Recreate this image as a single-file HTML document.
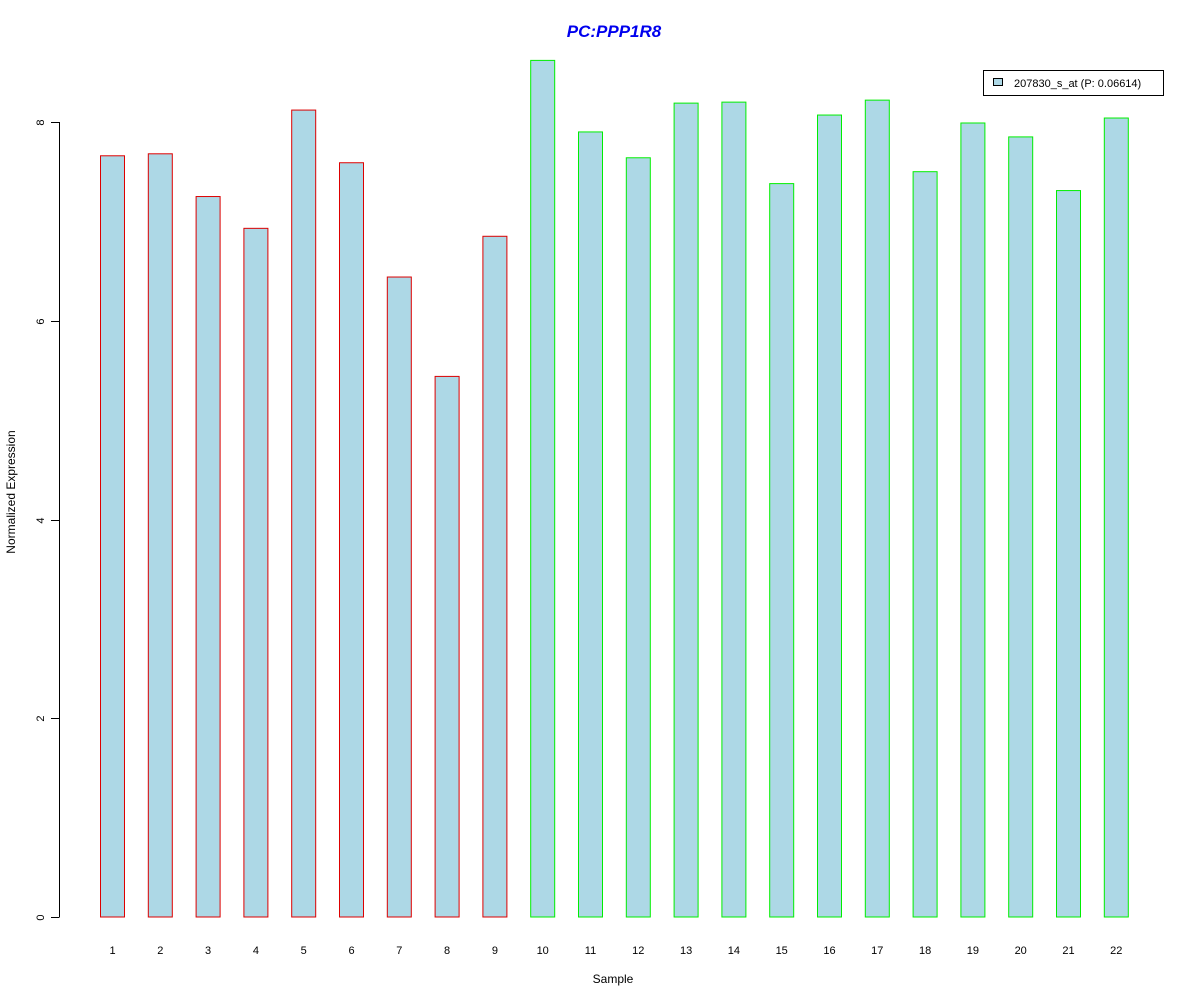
<!DOCTYPE html>
<html><head><meta charset="utf-8"><style>
body{margin:0;background:#fff;}
svg text{font-family:"Liberation Sans",Arial,sans-serif;}
</style></head><body>
<svg id="chart" width="1200" height="1000" xmlns="http://www.w3.org/2000/svg">
<rect width="1200" height="1000" fill="#fff"/>
<text x="614" y="37" text-anchor="middle" font-size="17" font-weight="bold" font-style="italic" fill="#0000ee">PC:PPP1R8</text>
<text x="613" y="983" text-anchor="middle" font-size="12">Sample</text>
<text transform="translate(15,492) rotate(-90)" text-anchor="middle" font-size="12">Normalized Expression</text>
<g id="bars"></g>
<g id="yaxis"></g>
<g>
<rect x="983.5" y="70.5" width="180" height="25" fill="#fff" stroke="#000"/>
<rect x="993.5" y="78.5" width="9" height="7" fill="#add8e6" stroke="#000"/>
<text x="1014" y="87" font-size="11">207830_s_at (P: 0.06614)</text>
</g>
</svg>
<script>
const categories=["1","2","3","4","5","6","7","8","9","10","11","12","13","14","15","16","17","18","19","20","21","22"];
const values=[7.66,7.68,7.25,6.93,8.12,7.59,6.44,5.44,6.85,8.62,7.90,7.64,8.19,8.20,7.38,8.07,8.22,7.50,7.99,7.85,7.31,8.04];
const groups=["red","red","red","red","red","red","red","red","red","green","green","green","green","green","green","green","green","green","green","green","green","green"];
const yTicks=[0,2,4,6,8];
const NS="http://www.w3.org/2000/svg";
function yScale(v){return 917-v*99.375;}
function xScale(i){return 112.5+i*47.8;}
const bars=document.getElementById('bars');
categories.forEach((c,i)=>{
  const r=document.createElementNS(NS,'rect');
  
  
  const x=xScale(i)-12,y=yScale(values[i]);
  r.setAttribute('x',x);r.setAttribute('y',y);r.setAttribute('width',24);r.setAttribute('height',917-y);
  r.setAttribute('fill','#add8e6');r.setAttribute('stroke',groups[i]==='red'?'#dd0000':'#00ee00');
  bars.appendChild(r);
  const t=document.createElementNS(NS,'text');
  
  
  t.setAttribute('x',xScale(i));t.setAttribute('y',954);t.setAttribute('text-anchor','middle');t.setAttribute('font-size','11');
  t.textContent=c;bars.appendChild(t);
});
const ya=document.getElementById('yaxis');
const ax=document.createElementNS(NS,'line');


ax.setAttribute('x1',59.5);ax.setAttribute('x2',59.5);ax.setAttribute('y1',yScale(yTicks[0]));ax.setAttribute('y2',yScale(yTicks[yTicks.length-1]));ax.setAttribute('stroke','#000');
ya.appendChild(ax);
yTicks.forEach(v=>{
  const l=document.createElementNS(NS,'line');
  
  
  const y=Math.round(yScale(v))+0.5;
  l.setAttribute('x1',51);l.setAttribute('x2',59.5);l.setAttribute('y1',y);l.setAttribute('y2',y);l.setAttribute('stroke','#000');
  ya.appendChild(l);
  const t=document.createElementNS(NS,'text');
  
  
  t.setAttribute('transform','translate(44,'+y+') rotate(-90)');t.setAttribute('text-anchor','middle');t.setAttribute('font-size','11');
  t.textContent=v;ya.appendChild(t);
});
</script>
</body></html>
